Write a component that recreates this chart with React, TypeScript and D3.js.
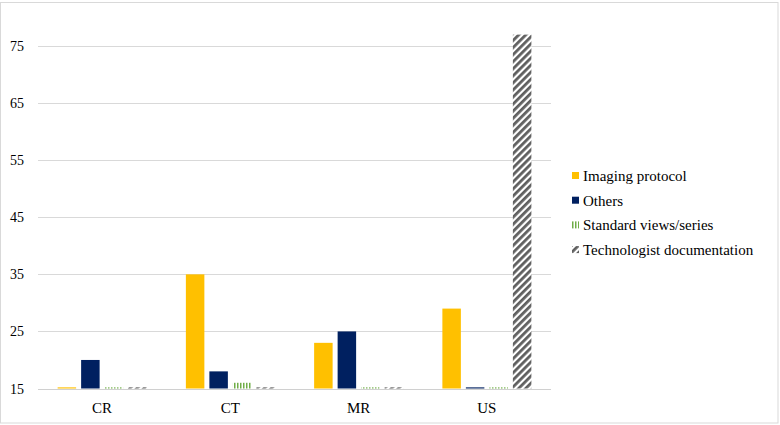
import React, { useEffect, useRef } from "react";
import * as d3 from "d3";

const categories = ["CR", "CT", "MR", "US"];
const seriesNames = [
  "Imaging protocol",
  "Others",
  "Standard views/series",
  "Technologist documentation",
];
const imagingProtocol = [15.2, 35, 23, 29];
const others = [20, 18, 25, 15.2];
const standardViews = [15.2, 16, 15.2, 15.2];
const technologistDoc = [15.2, 15.2, 15.2, 77];
const yTicks = [15, 25, 35, 45, 55, 65, 75];

const seriesValues = [imagingProtocol, others, standardViews, technologistDoc];

const w = 780;
const h = 425;
const m = { top: 17.5, left: 38, right: 229, bottom: 36.5 };
const font = "Liberation Serif";
const fills = ["#FFC000", "#002060", "url(#pGreen)", "url(#pGray)"];

const App = () => {
  const svgRef = useRef<SVGSVGElement | null>(null);

  useEffect(() => {
    document.body.style.margin = "0";
    // force the serif face on every label
    d3.select(svgRef.current)
      .selectAll("text")
      .each(function () {
        (this as SVGTextElement).style.setProperty(
          "font-family",
          '"Liberation Serif", "Times New Roman", serif',
          "important"
        );
      });
  }, []);

  const x0 = d3
    .scaleBand()
    .domain(categories)
    .range([m.left, w - m.right])
    .padding(0);

  const x1 = d3
    .scaleBand()
    .domain(seriesNames)
    .range([0, x0.bandwidth()])
    .paddingInner(0.213)
    .paddingOuter(0.835);

  const y = d3
    .scaleLinear()
    .domain([15, 80])
    .range([h - m.bottom, m.top]);

  const snap = (v: number) => Math.round(v) + 0.5;

  return (
    <svg ref={svgRef} width={w} height={h} style={{ display: "block" }} fontFamily={font}>
      <style>{`svg text { font-family: "Liberation Serif", "Times New Roman", serif !important; }`}</style>
      <defs>
        {/* green vertical stripes */}
        <pattern id="pGreen" patternUnits="userSpaceOnUse" width={3} height={3}>
          <rect width={3} height={3} fill="#fff" />
          <rect width={1.5} height={3} fill="#70AD47" />
        </pattern>
        {/* gray upward diagonal */}
        <pattern
          id="pGray"
          patternUnits="userSpaceOnUse"
          width={5}
          height={5}
          patternTransform="rotate(45)"
        >
          <rect width={5} height={5} fill="#fff" />
          <rect width={2.8} height={5} fill="#5f5f5f" />
        </pattern>
      </defs>

      {/* outer border */}
      <rect x={0.5} y={2.5} width={777.5} height={420.5} fill="#fff" stroke="#d9d9d9" />

      {/* gridlines */}
      {yTicks
        .filter((t) => t !== 15)
        .map((t) => (
          <line
            key={t}
            x1={m.left}
            x2={w - m.right}
            y1={snap(y(t))}
            y2={snap(y(t))}
            stroke="#d9d9d9"
          />
        ))}

      {/* y labels */}
      {yTicks.map((t) => (
        <text
          key={t}
          x={24}
          y={y(t) + 5}
          textAnchor="end"
          fontFamily={font}
          fontSize={14}
          fill="#000"
        >
          {t}
        </text>
      ))}

      {/* bars */}
      {seriesNames.map((name, si) => (
        <g key={name}>
          {seriesValues[si].map((v, i) => (
            <rect
              key={i}
              x={x0(categories[i])! + x1(name)!}
              y={y(v)}
              width={x1.bandwidth()}
              height={y(15) - y(v)}
              fill={fills[si]}
            />
          ))}
        </g>
      ))}

      {/* baseline */}
      <line
        x1={m.left}
        x2={w - m.right}
        y1={snap(y(15))}
        y2={snap(y(15))}
        stroke="#d0d0d0"
      />

      {/* x labels */}
      {categories.map((c) => (
        <text
          key={c}
          x={x0(c)! + x0.bandwidth() / 2}
          y={413}
          textAnchor="middle"
          fontFamily={font}
          fontSize={15}
          fill="#000"
        >
          {c}
        </text>
      ))}

      {/* legend */}
      <g transform="translate(572, 176)">
        {seriesNames.map((name, i) => (
          <g key={name} transform={`translate(0, ${i * 24.7})`}>
            <rect x={0} y={-4} width={7} height={7} fill={fills[i]} />
            <text x={11} y={5} fontFamily={font} fontSize={15} fill="#000">
              {name}
            </text>
          </g>
        ))}
      </g>
    </svg>
  );
};

export default App;
